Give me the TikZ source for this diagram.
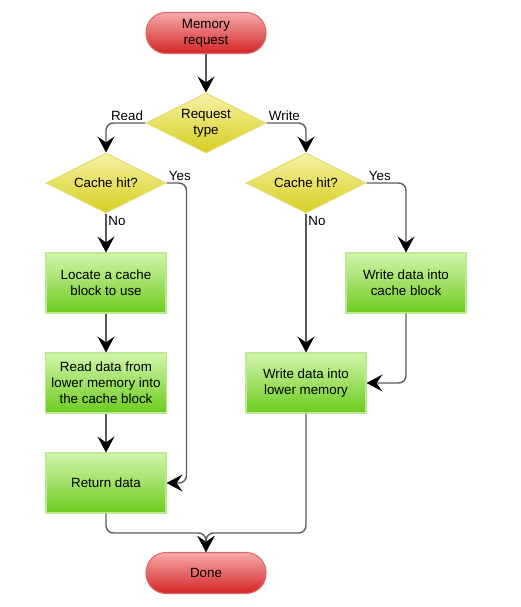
\documentclass[tikz,border=0pt]{standalone}
\usepackage{fontspec}
\setmainfont{Liberation Sans}
\usetikzlibrary{shapes.geometric, arrows.meta}
\definecolor{termtop}{HTML}{F7AAAA}
\definecolor{termbot}{HTML}{D32424}
\definecolor{termline}{HTML}{D86A6A}
\definecolor{dectop}{HTML}{F7F2A8}
\definecolor{decbot}{HTML}{D6CE1E}
\definecolor{decline}{HTML}{E4DE70}
\definecolor{proctop}{HTML}{D2F6AC}
\definecolor{procbot}{HTML}{6CCB1E}
\definecolor{procline}{HTML}{BCEA92}
\definecolor{linegrey}{HTML}{5A5A5A}
\tikzstyle{term} = [rectangle, rounded corners=0.4cm, minimum width=2.4cm, minimum height=0.82cm, text centered, align=center, draw=termline, line width=0.6pt, top color=termtop, bottom color=termbot, font=\fontsize{7.6}{9}\selectfont]
\tikzstyle{decision} = [diamond, aspect=2, inner sep=0, minimum width=2.4cm, minimum height=1.2cm, text centered, align=center, draw=decline, line width=0.6pt, top color=dectop, bottom color=decbot, font=\fontsize{7.6}{9}\selectfont]
\tikzstyle{process} = [rectangle, minimum width=2.4cm, minimum height=1.2cm, text centered, align=center, draw=procline, line width=0.6pt, top color=proctop, bottom color=procbot, font=\fontsize{7.6}{9}\selectfont]
\tikzstyle{arrow} = [line width=0.8pt, draw=linegrey, rounded corners=0.15cm, -{Stealth[black,length=0.32cm,width=0.34cm,inset=0.12cm]}]
\tikzstyle{lbl} = [inner sep=1pt, font=\fontsize{7.6}{9}\selectfont]

\begin{document}
\begin{tikzpicture}[x=0.02cm,y=-0.02cm]
\useasboundingbox (0,0) rectangle (520,607);
% nodes
\node[term] (memreq) at (206,33) {Memory\\request};
\node[decision] (reqtype) at (206,123) {Request\\type};
\node[decision] (readhit) at (106,183) {Cache hit?};
\node[decision] (writehit) at (306,183) {Cache hit?};
\node[process] (locate) at (106,283) {Locate a cache\\block to use};
\node[process] (readlower) at (106,383) {Read data from\\lower memory into\\the cache block};
\node[process] (retdata) at (106,483) {Return data};
\node[process] (writecache) at (406,283) {Write data into\\cache block};
\node[process] (writelower) at (306,383) {Write data into\\lower memory};
\node[term] (done) at (206,573) {Done};
% connectors
\draw[arrow] (memreq) -- (reqtype);
\draw[arrow] (reqtype.west) -| node[lbl,pos=0,above left]{Read} (readhit.north);
\draw[arrow] (reqtype.east) -| node[lbl,pos=0,above right]{Write} (writehit.north);
\draw[arrow] (readhit.south) -- node[lbl,pos=0,below right]{No} (locate.north);
\draw[arrow] (readhit.east) -- node[lbl,pos=0,above right]{Yes} ++(20,0) |- (retdata.east);
\draw[arrow] (locate) -- (readlower);
\draw[arrow] (readlower) -- (retdata);
\draw[arrow] (writehit.south) -- node[lbl,pos=0,below right]{No} (writelower.north);
\draw[arrow] (writehit.east) -| node[lbl,pos=0,above right]{Yes} (writecache.north);
\draw[arrow] (writecache.south) |- (writelower.east);
\draw[arrow] (retdata.south) |- (206,533) -- (done.north);
\draw[arrow] (writelower.south) |- (206,533) -- (done.north);
\end{tikzpicture}
\end{document}
